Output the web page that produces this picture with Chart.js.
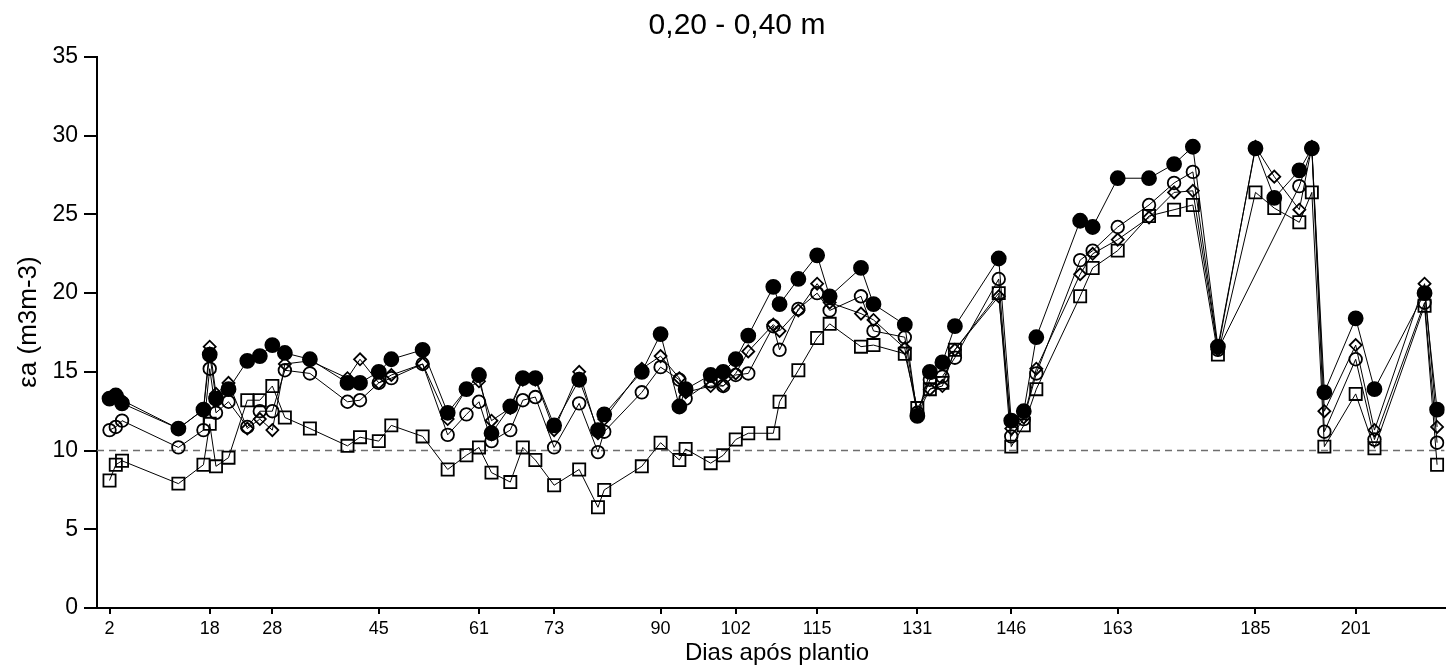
<!DOCTYPE html>
<html>
<head>
<meta charset="utf-8">
<script src="https://cdn.jsdelivr.net/npm/chart.js@4.4.1/dist/chart.umd.min.js"></script>
<style>
  html, body { margin: 0; padding: 0; background: #fff; }
  #wrap { width: 1455px; height: 671px; position: relative; }
</style>
</head>
<body>
<div id="wrap"><canvas id="humidityChart"></canvas></div>
<script>
// Dias após plantio
const days = [2, 3, 4, 13, 17, 18, 19, 21, 24, 26, 28, 30, 34, 40, 42, 45, 47, 52, 56, 59, 61, 63, 66,
    68, 70, 73, 77, 80, 81, 87, 90, 93, 94, 98, 100, 102, 104, 108, 109, 112, 115, 117, 122,
    124, 129, 131, 133, 135, 137, 144, 146, 148, 150, 157, 159, 163, 168, 172, 175, 179, 185, 188, 192,
    194, 196, 201, 204, 212, 214];

// tratamentos (umidade, m3 m-3 x 100)
const filledCircle = [13.3, 13.5, 13.0, 11.4, 12.6, 16.1, 13.3, 13.9, 15.7, 16.0, 16.7, 16.2, 15.8,
    14.3, 14.3, 15.0, 15.8, 16.4, 12.4, 13.9, 14.8, 11.1, 12.8,
    14.6, 14.6, 11.6, 14.5, 11.3, 12.3, 15.0, 17.4, 12.8, 13.9,
    14.8, 15.0, 15.8, 17.3, 20.4, 19.3, 20.9, 22.4, 19.8, 21.6,
    19.3, 18.0, 12.2, 15.0, 15.6, 17.9, 22.2, 11.9, 12.5, 17.2,
    24.6, 24.2, 27.3, 27.3, 28.2, 29.3, 16.6, 29.2, 26.05, 27.8,
    29.2, 13.7, 18.4, 13.9, 20.0, 12.6];
const openCircle = [11.3, 11.5, 11.9, 10.2, 11.3, 15.2, 12.4, 13.1, 11.5, 12.5, 12.5, 15.1, 14.9,
    13.1, 13.2, 14.3, 14.6, 15.5, 11.0, 12.3, 13.1, 10.6, 11.3,
    13.2, 13.4, 10.2, 13.0, 9.9, 11.2, 13.7, 15.3, 14.5, 13.3,
    14.4, 14.1, 14.8, 14.9, 17.9, 16.4, 19.0, 20.0, 18.9, 19.8,
    17.6, 17.2, 12.4, 14.5, 14.7, 15.9, 20.9, 10.9, 12.0, 14.9,
    22.1, 22.7, 24.2, 25.6, 27.0, 27.7, 16.4, null, null, 26.8,
    29.2, 11.2, 15.8, 10.7, 19.4, 10.5];
const openDiamond = [13.3, 13.4, 13.2, 11.4, 12.6, 16.6, 13.6, 14.3, 11.4, 12.0, 11.3, 15.5, 15.7,
    14.6, 15.8, 14.3, 14.8, 15.5, 12.0, 13.9, 14.4, 11.9, 12.7,
    14.5, 14.5, 11.3, 15.0, 11.1, 12.0, 15.2, 16.0, 14.6, 13.7,
    14.1, 14.1, 14.9, 16.3, 18.0, 17.6, 18.9, 20.6, 19.4, 18.7,
    18.3, 16.5, 12.3, 13.9, 14.1, 16.4, 19.8, 11.4, 12.1, 15.2,
    21.2, 22.5, 23.4, 24.8, 26.4, 26.5, 16.4, 29.3, 27.4, 25.3,
    29.3, 12.5, 16.7, 11.3, 20.6, 11.5];
const openSquare = [8.1, 9.1, 9.35, 7.9, 9.1, 11.7, 9.0, 9.55, 13.2, 13.2, 14.1, 12.1, 11.4,
    10.3, 10.85, 10.6, 11.6, 10.9, 8.8, 9.7, 10.2, 8.6, 8.0,
    10.2, 9.4, 7.8, 8.8, 6.4, 7.5, 9.0, 10.5, 9.4, 10.1,
    9.2, 9.7, 10.7, 11.1, 11.1, 13.1, 15.1, 17.15, 18.05, 16.6,
    16.7, 16.15, 12.7, 13.9, 14.3, 16.4, 20.0, 10.25, 11.6, 13.9,
    19.8, 21.6, 22.7, 24.9, 25.3, 25.6, 16.1, 26.4, 25.4, 24.5,
    26.4, 10.25, 13.6, 10.15, 19.2, 9.1];

const xTicks = [2, 18, 28, 45, 61, 73, 90, 102, 115, 131, 146, 163, 185, 201];
const yTicks = [0, 5, 10, 15, 20, 25, 30, 35];
const refLevel = 10;

const FONT = "'Liberation Sans', Arial, sans-serif";
const X_MIN = 0, X_MAX = 215.2;

function pts(values) {
    return days.map((d, i) => ({ x: d, y: values[i] }));
}

// titulo e rotulos dos eixos
const labelsPlugin = {
    id: 'plotLabels',
    afterDraw(chart) {
        const ctx = chart.ctx;
        ctx.save();
        ctx.fillStyle = '#000';
        ctx.textAlign = 'center';
        ctx.textBaseline = 'middle';

        ctx.font = '30px ' + FONT;
        ctx.fillText('0,20 - 0,40 m', 737, 26);

        ctx.font = '24px ' + FONT;
        ctx.fillText('Dias após plantio', 777, 653);

        ctx.translate(29, 322);
        ctx.rotate(-Math.PI / 2);
        ctx.font = '26px ' + FONT;
        ctx.fillText('εa (m3m-3)', 0, 0);
        ctx.restore();
    }
};

const common = {
    borderColor: '#000',
    borderWidth: 1,
    pointBorderColor: '#000',
    pointBorderWidth: 1.8,
    pointHoverRadius: 7,
    tension: 0,
    spanGaps: true,
    fill: false
};

new Chart(document.getElementById('humidityChart').getContext('2d'), {
    type: 'line',
    data: {
        datasets: [{
            ...common,
            label: 'filled',
            data: pts(filledCircle),
            pointStyle: 'circle',
            pointRadius: 7,
            pointBackgroundColor: '#000',
            order: 1
        }, {
            ...common,
            label: 'diamond',
            data: pts(openDiamond),
            pointStyle: 'rectRot',
            pointRadius: 6,
            pointBackgroundColor: 'rgba(0,0,0,0)',
            order: 2
        }, {
            ...common,
            label: 'circle',
            data: pts(openCircle),
            pointStyle: 'circle',
            pointRadius: 6.3,
            pointBackgroundColor: 'rgba(0,0,0,0)',
            order: 3
        }, {
            ...common,
            label: 'square',
            data: pts(openSquare),
            pointStyle: 'rect',
            pointRadius: 8.6,
            pointBackgroundColor: 'rgba(0,0,0,0)',
            order: 4
        }, {
            label: 'ref',
            data: [{ x: X_MIN, y: refLevel }, { x: X_MAX, y: refLevel }],
            borderColor: '#6e6e6e',
            borderWidth: 1.5,
            borderDash: [7, 5],
            pointRadius: 0,
            order: 5
        }]
    },
    options: {
        responsive: true,
        maintainAspectRatio: false,
        animation: false,
        layout: { padding: { top: 57, right: 0, left: 0, bottom: 0 } },
        plugins: {
            legend: { display: false },
            tooltip: { enabled: false }
        },
        scales: {
            x: {
                type: 'linear',
                min: X_MIN,
                max: X_MAX,
                afterBuildTicks: (scale) => { scale.ticks = xTicks.map(v => ({ value: v })); },
                afterFit: (scale) => { scale.height = 63; },
                grid: { drawOnChartArea: false, tickLength: 6, color: '#000', lineWidth: 2 },
                border: { color: '#000', width: 2 },
                ticks: { color: '#000', font: { family: FONT, size: 18 }, padding: 4, maxRotation: 0, autoSkip: false }
            },
            y: {
                min: 0,
                max: 35,
                afterBuildTicks: (scale) => { scale.ticks = yTicks.map(v => ({ value: v })); },
                afterFit: (scale) => { scale.width = 97; },
                grid: { drawOnChartArea: false, tickLength: 13, color: '#000', lineWidth: 2 },
                border: { color: '#000', width: 2 },
                ticks: { color: '#000', font: { family: FONT, size: 23 }, padding: 6 }
            }
        }
    },
    plugins: [labelsPlugin]
});
</script>
</body>
</html>
